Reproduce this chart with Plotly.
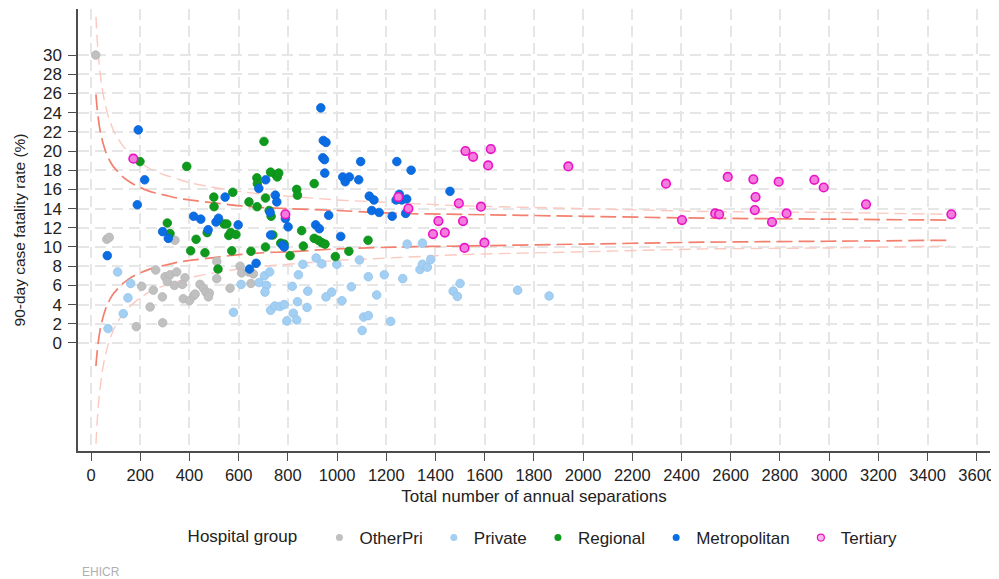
import plotly.graph_objects as go

# ---------------- data ----------------
otherpri_n = [19, 64, 74, 184, 206, 240, 263, 253, 290, 291, 301, 321, 310, 339, 348, 382, 371, 341,
              375, 400, 416, 423, 443, 457, 467, 481, 477, 511, 511, 565, 606, 612, 640, 660, 650]
otherpri_rate = [30.0, 10.8, 11.0, 1.7, 5.9, 3.75, 7.6, 5.5, 4.8, 2.1, 6.9, 7.1, 6.4, 6.0, 7.4, 6.8, 6.1, 10.7,
                 4.6, 4.4, 4.9, 5.1, 6.1, 5.7, 5.3, 5.2, 4.8, 8.5, 6.7, 5.7, 8.0, 7.3, 7.4, 7.2, 6.2]

private_n = [69, 108, 131, 150, 161, 579, 610, 683, 705, 713, 707, 726, 730, 747, 768, 785, 796, 822,
             818, 836, 839, 843, 861, 878, 881, 915, 938, 955, 978, 999, 1020, 1058, 1091, 1102, 1108,
             1127, 1127, 1161, 1192, 1218, 1267, 1285, 1337, 1347, 1347, 1367, 1381, 1472, 1489, 1500,
             1734, 1862]
private_rate = [1.5, 7.4, 3.05, 4.7, 6.2, 3.2, 6.1, 6.3, 7.0, 6.0, 5.3, 7.4, 3.4, 3.85, 3.8, 4.0, 2.3, 3.1,
                5.9, 2.4, 4.3, 7.1, 8.2, 3.7, 5.4, 8.85, 8.25, 4.8, 5.3, 8.2, 4.4, 5.85, 8.65, 1.3, 2.7,
                2.85, 6.9, 5.0, 7.1, 2.25, 6.7, 10.3, 7.65, 10.4, 8.2, 7.9, 8.7, 5.4, 4.85, 6.2,
                5.5, 4.9]

regional_n = [199, 389, 703, 310, 321, 405, 427, 463, 472, 499, 500, 516, 541, 552, 560, 568, 572, 576,
              589, 642, 650, 674, 676, 675, 709, 709, 724, 732, 739, 730, 752, 757, 763, 771, 785, 809,
              836, 839, 856, 863, 907, 907, 924, 938, 951, 993, 1048, 1126]
regional_rate = [18.9, 18.4, 21.0, 12.5, 11.4, 9.6, 10.8, 9.4, 11.5, 15.2, 14.2, 7.7, 12.4, 12.4, 11.2, 11.5, 9.6, 15.7,
                 11.3, 14.7, 9.55, 17.2, 16.6, 14.2, 15.1, 10.0, 13.8, 13.2, 11.25, 17.8, 17.5, 17.3, 17.7, 10.4, 10.3, 9.1,
                 16.0, 15.4, 11.7, 10.1, 16.6, 10.9, 10.7, 10.45, 10.3, 9.0, 9.55, 10.7]

metro_n = [192, 218, 188, 66, 291, 314, 417, 446, 476, 508, 518, 545, 598, 644, 671, 682, 710, 728,
           730, 749, 755, 779, 785, 801, 790, 934, 944, 955, 942, 949, 950, 1096, 1243, 1301, 1023,
           1033, 1050, 1088, 1459, 1131, 1150, 1240, 1253, 1263, 1283, 1141, 1171, 1279, 1224, 966,
           913, 928, 1015]
metro_rate = [22.2, 17.0, 14.4, 9.1, 11.6, 10.9, 13.2, 12.9, 11.8, 12.6, 13.0, 15.2, 12.3, 7.7, 8.3, 16.1, 17.0, 13.6,
              11.25, 15.4, 14.7, 10.2, 10.0, 12.1, 12.95, 24.5, 21.1, 20.9, 19.3, 19.1, 17.7, 18.9, 18.9, 18.0, 17.3,
              16.8, 17.3, 17.0, 15.8, 15.3, 14.9, 14.9, 15.5, 14.9, 15.0, 13.8, 13.6, 13.5, 13.2, 13.3,
              12.3, 11.9, 11.1]

tertiary_n = [172, 790, 1249, 1290, 1390, 1412, 1438, 1495, 1512, 1518, 1522, 1553, 1585, 1599, 1614, 1625,
              1940, 2337, 2402, 2537, 2553, 2588, 2692, 2698, 2701, 2768, 2795, 2827, 2940, 2978, 3150, 3497]
tertiary_rate = [19.2, 13.4, 15.2, 14.0, 11.35, 12.7, 11.5, 14.55, 12.7, 9.9, 20.0, 19.4, 14.2, 10.45, 18.5, 20.2,
                 18.4, 16.6, 12.8, 13.5, 13.4, 17.3, 17.05, 13.85, 15.2, 12.6, 16.8, 13.5, 17.0, 16.2, 14.45, 13.4]

# funnel control limits
funnel_n = [20, 22, 25, 30, 35, 40, 45, 50, 60, 70, 80, 90, 100, 125, 150, 175, 200, 250, 300, 350, 400,
            500, 600, 700, 800, 1000, 1250, 1500, 2000, 2500, 3000, 3490]
inner_upper = [25.9, 25.2, 24.4, 23.3, 22.4, 21.7, 21.2, 20.7, 19.9, 19.3, 18.8, 18.4, 18.1, 17.4, 16.9, 16.5,
               16.2, 15.7, 15.4, 15.1, 14.9, 14.6, 14.3, 14.1, 14.0, 13.8, 13.5, 13.4, 13.2, 13.0, 12.9, 12.8]
inner_lower = [-2.4, -1.7, -0.9, 0.2, 1.1, 1.8, 2.3, 2.8, 3.6, 4.2, 4.7, 5.1, 5.4, 6.1, 6.6, 7.0,
               7.3, 7.8, 8.1, 8.4, 8.6, 8.9, 9.2, 9.4, 9.5, 9.8, 10.0, 10.1, 10.3, 10.5, 10.6, 10.7]
outer_upper = [34.0, 33.0, 31.6, 29.9, 28.6, 27.5, 26.6, 25.8, 24.6, 23.6, 22.9, 22.2, 21.7, 20.7, 19.9, 19.3,
               18.8, 18.0, 17.5, 17.1, 16.7, 16.2, 15.8, 15.5, 15.3, 14.9, 14.6, 14.3, 14.0, 13.7, 13.6, 13.4]
outer_lower = [-10.5, -9.5, -8.2, -6.4, -5.1, -4.0, -3.1, -2.3, -1.1, -0.1, 0.6, 1.3, 1.8, 2.9, 3.6, 4.2,
               4.7, 5.5, 6.0, 6.4, 6.8, 7.3, 7.7, 8.0, 8.2, 8.6, 8.9, 9.2, 9.5, 9.8, 9.9, 10.1]

x_ticks = list(range(0, 3601, 200))
y_ticks = list(range(0, 31, 2))

groups = [
    ("OtherPri", otherpri_n, otherpri_rate, "#c0c0c0", "#b6b6b6"),
    ("Private", private_n, private_rate, "#a3cff2", "#92c3ec"),
    ("Regional", regional_n, regional_rate, "#0f9a1e", "#0b8f19"),
    ("Metropolitan", metro_n, metro_rate, "#0a6de3", "#0963d8"),
    ("Tertiary", tertiary_n, tertiary_rate, "#f27ddc", "#ea12c6"),
]

FONT = "Liberation Sans, Arial, Helvetica, sans-serif"

fig = go.Figure()

# funnel limits
for ys, col, w, dash in [(outer_upper, "#fcc9c1", 1.4, "12px,6px"),
                         (outer_lower, "#fcc9c1", 1.4, "12px,6px"),
                         (inner_upper, "#f3806f", 1.7, "16px,6px"),
                         (inner_lower, "#f3806f", 1.7, "16px,6px")]:
    fig.add_trace(go.Scatter(x=funnel_n, y=ys, mode="lines", showlegend=False, hoverinfo="skip",
                             line=dict(color=col, width=w, dash=dash, shape="spline", smoothing=0.6)))

# scatter points
for name, xs, ys, fill, edge in groups:
    lw = 1.6 if name == "Tertiary" else 0.8
    fig.add_trace(go.Scatter(x=xs, y=ys, mode="markers", name=name, showlegend=False,
                             marker=dict(size=8.6, color=fill, line=dict(color=edge, width=lw))))

# legend entries (small markers as in the reference)
for name, xs, ys, fill, edge in groups:
    lw = 1.2 if name == "Tertiary" else 0
    fig.add_trace(go.Scatter(x=[None], y=[None], mode="markers", name=name + "\u00a0\u200a", showlegend=True,
                             marker=dict(size=7, color=fill if name != "Tertiary" else "#f9b6ec",
                                         line=dict(color=edge, width=lw))))

axis_common = dict(
    showline=True, linecolor="#4d4d4d", linewidth=1.5,
    ticks="outside", ticklen=8, tickwidth=1.3, tickcolor="#4d4d4d",
    showgrid=True, gridcolor="#e6e6e6", gridwidth=1.5, griddash="11px,6px",
    zeroline=False, automargin=False,
)

# the page body adds an 8px offset; margins below compensate so the plot area
# lands at x 78..990, y 9..451 in the window
fig.update_layout(
    width=991, height=571,
    margin=dict(l=70, r=9, t=1, b=128),
    paper_bgcolor="white", plot_bgcolor="white",
    font=dict(family=FONT, size=16, color="#222"),
    xaxis=dict(range=[-53, 3654], tickvals=x_ticks, ticktext=[str(v) for v in x_ticks],
               tickfont=dict(size=16.5, color="#222", family=FONT),
               title=dict(text="Total number of annual separations", font=dict(size=17), standoff=8),
               **axis_common),
    yaxis=dict(range=[-11.26, 34.8], tickvals=y_ticks, ticktext=[str(v) for v in y_ticks],
               tickfont=dict(size=17, color="#222", family=FONT), ticklabelstandoff=3,
               title=dict(text="90-day case fatality rate (%)", font=dict(size=15.5), standoff=14),
               **axis_common),
    legend=dict(orientation="h", x=0.118, xanchor="left", y=-0.197, yanchor="middle",
                title=dict(text="Hospital group   ", font=dict(size=17)),
                font=dict(size=17), itemwidth=30, bgcolor="rgba(0,0,0,0)"),
    annotations=[dict(text="EHICR", xref="paper", yref="paper", x=0.025, y=-0.274,
                      xanchor="center", yanchor="middle", showarrow=False,
                      font=dict(size=12, color="#b0b0b0"))],
)

fig.write_html("out.html")
